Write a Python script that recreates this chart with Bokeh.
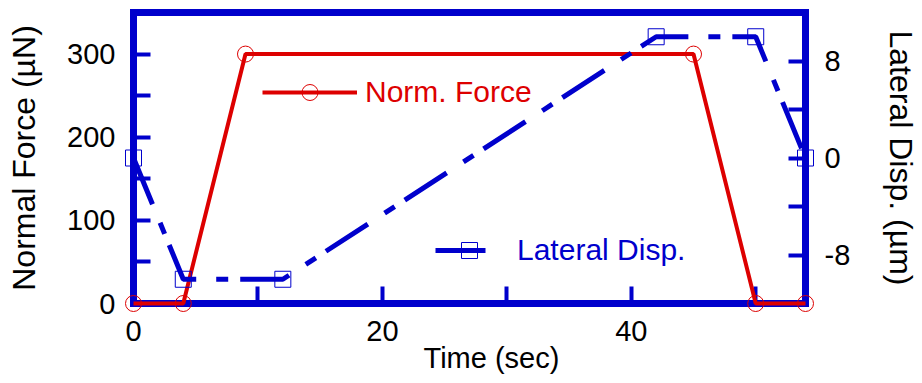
from bokeh.plotting import figure
from bokeh.models import Range1d, LinearAxis, FixedTicker, Legend, LegendItem, Title
from bokeh.embed import file_html
from bokeh.resources import INLINE

# ---- data ----
time_force = [0, 4, 9, 45, 50, 54]
normal_force = [0, 0, 300, 300, 0, 0]
time_disp = [0, 4, 12, 42, 50, 54]
lateral_disp = [0, -10, -10, 10, 10, 0]

x_major = [0, 20, 40]
x_minor = [10, 30, 50]
yl_major = [0, 100, 200, 300]
yl_minor = [50, 150, 250]
yr_major = [-8, 0, 8]
yr_minor = [-4, 4]
yr_labels = {-8: "-8", 0: "0", 8: "8"}

BLUE = "#0000CC"
RED = "#DD0000"
FONT = "Liberation Sans"

W, H = 922, 383

p = figure(width=W, height=H, output_backend="svg", toolbar_location=None,
           x_range=Range1d(0, 54), y_range=Range1d(0, 350),
           min_border_left=133, min_border_right=113,
           min_border_top=12, min_border_bottom=80)
p.extra_y_ranges = {"disp": Range1d(-12, 12)}
p.add_layout(LinearAxis(y_range_name="disp"), "right")

p.xgrid.visible = False
p.ygrid.visible = False
p.background_fill_color = "white"
p.border_fill_color = "white"
p.outline_line_color = BLUE
p.outline_line_width = 7
p.outline_line_alpha = 1.0
p.outline_line_join = "miter"

for ax in p.axis:
    ax.axis_line_color = None
    ax.major_tick_in = 17
    ax.major_tick_out = 0
    ax.minor_tick_in = 17
    ax.minor_tick_out = 0
    ax.major_tick_line_color = BLUE
    ax.minor_tick_line_color = BLUE
    ax.major_tick_line_width = 4
    ax.minor_tick_line_width = 4
    ax.major_label_text_font = FONT
    ax.major_label_text_font_size = "29px"
    ax.major_label_text_color = "black"
    ax.axis_label_text_font = FONT
    ax.axis_label_text_font_size = "32px"
    ax.axis_label_text_font_style = "normal"
    ax.axis_label_text_color = "black"

xa = p.xaxis[0]
xa.ticker = FixedTicker(ticks=x_major, minor_ticks=x_minor)
xa.major_label_standoff = 17

ya = p.yaxis[0]
ya.ticker = FixedTicker(ticks=yl_major, minor_ticks=yl_minor)
ya.major_label_standoff = 18
ya.axis_label = "Normal Force (µN)"
ya.axis_label_standoff = 22

ra = p.right[0]
ra.ticker = FixedTicker(ticks=yr_major, minor_ticks=yr_minor)
ra.major_label_overrides = yr_labels
ra.major_label_standoff = 19
ra.axis_label = "Lateral Disp. (µm)"
ra.axis_label_standoff = 30

p.add_layout(Title(text="Time (sec)", align="left", offset=290, standoff=-8,
                   text_font=FONT, text_font_size="29px", text_font_style="normal",
                   text_color="black"), "below")

# ---- series ----
r_line = p.line(time_force, normal_force, line_color=RED, line_width=4, level="overlay")
r_pts = p.scatter(time_force, normal_force, marker="circle", size=16,
                  fill_color=None, line_color=RED, line_width=1, level="overlay")

b_line = p.line(time_disp, lateral_disp, line_color=BLUE, line_width=5,
                line_dash="50 20 12 12", y_range_name="disp", level="overlay")
b_pts = p.scatter(time_disp, lateral_disp, marker="square", size=16,
                  fill_color=None, line_color=BLUE, line_width=1,
                  y_range_name="disp", level="overlay")

leg1 = Legend(items=[LegendItem(label="Norm. Force", renderers=[r_line, r_pts])],
              location=(129, 191), glyph_width=95, glyph_height=40, label_height=40,
              label_standoff=8, padding=0, margin=0, spacing=0,
              label_text_font=FONT, label_text_font_size="30px", label_text_color=RED,
              border_line_color=None, background_fill_alpha=0)
leg2 = Legend(items=[LegendItem(label="Lateral Disp.", renderers=[b_line, b_pts])],
              location=(302, 33), glyph_width=68, glyph_height=40, label_height=40,
              label_standoff=14, padding=0, margin=0, spacing=0,
              label_text_font=FONT, label_text_font_size="30px", label_text_color=BLUE,
              border_line_color=None, background_fill_alpha=0)
p.add_layout(leg1)
p.add_layout(leg2)

open("out.html", "w").write(file_html(p, INLINE))
